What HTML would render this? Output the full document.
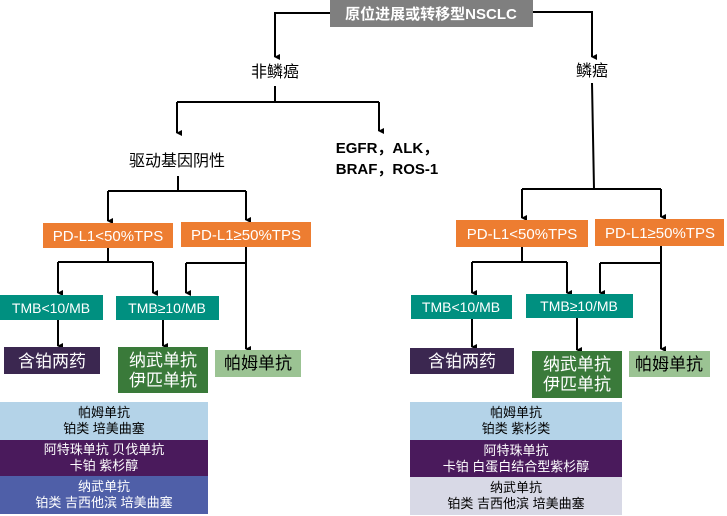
<!DOCTYPE html>
<html><head><meta charset="utf-8"><style>
html,body{margin:0;padding:0;background:#fff;}
svg{display:block;font-family:"Liberation Sans","Noto Sans CJK SC",sans-serif;}
</style></head><body>
<svg width="727" height="516" viewBox="0 0 727 516" xmlns="http://www.w3.org/2000/svg">
<defs><marker id="a" markerWidth="6" markerHeight="6" refX="3" refY="5" orient="auto" markerUnits="userSpaceOnUse"><path d="M0,0 L6,0 L3,6 z" fill="#000"/></marker></defs>
<g stroke="#000" stroke-width="2" fill="none">
<path d="M330,13 H275 V57" marker-end="url(#a)"/>
<path d="M533,12 H592 V57" marker-end="url(#a)"/>
<path d="M275,86 V102 M177,102 H379"/>
<path d="M177,102 V133" marker-end="url(#a)"/>
<path d="M379,102 V131" marker-end="url(#a)"/>
<path d="M178,176 V191 M108,191 H246"/>
<path d="M108,191 V221" marker-end="url(#a)"/>
<path d="M246,191 V220" marker-end="url(#a)"/>
<path d="M108,248 V262 M58,262 H153"/>
<path d="M58,262 V293" marker-end="url(#a)"/>
<path d="M153,262 V293" marker-end="url(#a)"/>
<path d="M246,247 V263 M186,263 H246"/>
<path d="M186,263 V293" marker-end="url(#a)"/>
<path d="M246,263 V349" marker-end="url(#a)"/>
<path d="M58,320 V346" marker-end="url(#a)"/>
<path d="M163,320 V346" marker-end="url(#a)"/>
<path d="M592,83 L594,189 M522,189 H661"/>
<path d="M522,189 V218" marker-end="url(#a)"/>
<path d="M661,189 V217" marker-end="url(#a)"/>
<path d="M522,247 V262 M472,262 H567"/>
<path d="M472,262 V293" marker-end="url(#a)"/>
<path d="M567,262 V293" marker-end="url(#a)"/>
<path d="M661,246 V263 M600,263 H661"/>
<path d="M600,263 V293" marker-end="url(#a)"/>
<path d="M661,263 V349" marker-end="url(#a)"/>
<path d="M472,319 V347" marker-end="url(#a)"/>
<path d="M577,318 V350" marker-end="url(#a)"/>
</g>
<rect x="330" y="0" width="203" height="27" fill="#7f7f7f"/>
<text x="431" y="19" font-size="15" font-weight="bold" fill="#fff" text-anchor="middle">原位进展或转移型NSCLC</text>
<g font-size="16" text-anchor="middle" fill="#000">
<text x="275" y="77">非鳞癌</text>
<text x="592" y="76">鳞癌</text>
<text x="177" y="166">驱动基因阴性</text>
<text x="387" y="153" font-weight="bold" font-size="15">EGFR，ALK，</text>
<text x="387" y="174" font-weight="bold" font-size="15">BRAF，ROS-1</text>
</g>
<g fill="#ed7d31"><rect x="43" y="223" width="130" height="25"/><rect x="181" y="222" width="130" height="25"/><rect x="456" y="220" width="132" height="27"/><rect x="595" y="219" width="129" height="27"/></g>
<g font-size="15" fill="#fff" text-anchor="middle">
<text x="108" y="241">PD-L1&lt;50%TPS</text><text x="246" y="240">PD-L1≥50%TPS</text>
<text x="522" y="239">PD-L1&lt;50%TPS</text><text x="660" y="238">PD-L1≥50%TPS</text>
</g>
<g fill="#009080"><rect x="0" y="295" width="103" height="25"/><rect x="116" y="296" width="103" height="24"/><rect x="411" y="295" width="101" height="24"/><rect x="526" y="294" width="107" height="24"/></g>
<g font-size="14" fill="#fff" text-anchor="middle">
<text x="51" y="313">TMB&lt;10/MB</text><text x="167" y="313">TMB≥10/MB</text>
<text x="461" y="312">TMB&lt;10/MB</text><text x="579" y="311">TMB≥10/MB</text>
</g>
<rect x="4" y="347" width="96" height="27" fill="#3b2750"/>
<rect x="410" y="348" width="104" height="26" fill="#3b2750"/>
<rect x="118" y="347" width="90" height="46" fill="#3a7a3a"/>
<rect x="532" y="351" width="90" height="47" fill="#3a7a3a"/>
<rect x="215" y="350" width="86" height="27" fill="#9bc393"/>
<rect x="629" y="351" width="81" height="26" fill="#9bc393"/>
<g font-size="17" text-anchor="middle">
<text x="52" y="367" fill="#fff">含铂两药</text><text x="462" y="367" fill="#fff">含铂两药</text>
<text x="163" y="366" fill="#fff">纳武单抗</text><text x="163" y="386" fill="#fff">伊匹单抗</text>
<text x="577" y="370" fill="#fff">纳武单抗</text><text x="577" y="390" fill="#fff">伊匹单抗</text>
<text x="258" y="369" fill="#000">帕姆单抗</text><text x="669" y="370" fill="#000">帕姆单抗</text>
</g>
<rect x="0" y="402" width="208" height="38" fill="#b4d3e8"/>
<rect x="0" y="440" width="208" height="36" fill="#4a1a5c"/>
<rect x="0" y="476" width="208" height="38" fill="#4f5fa8"/>
<rect x="410" y="402" width="212" height="38" fill="#b4d3e8"/>
<rect x="410" y="440" width="212" height="37" fill="#4a1a5c"/>
<rect x="410" y="477" width="212" height="38" fill="#d8d9e6"/>
<g font-size="13" text-anchor="middle">
<text x="104" y="417" fill="#000">帕姆单抗</text><text x="104" y="433" fill="#000">铂类 培美曲塞</text>
<text x="104" y="454" fill="#fff">阿特珠单抗 贝伐单抗</text><text x="104" y="470" fill="#fff">卡铂 紫杉醇</text>
<text x="104" y="491" fill="#fff">纳武单抗</text><text x="104" y="507" fill="#fff">铂类 吉西他滨 培美曲塞</text>
<text x="516" y="417" fill="#000">帕姆单抗</text><text x="516" y="433" fill="#000">铂类 紫杉类</text>
<text x="516" y="455" fill="#fff">阿特珠单抗</text><text x="516" y="471" fill="#fff">卡铂 白蛋白结合型紫杉醇</text>
<text x="516" y="492" fill="#000">纳武单抗</text><text x="516" y="508" fill="#000">铂类 吉西他滨 培美曲塞</text>
</g>
</svg>
</body></html>
